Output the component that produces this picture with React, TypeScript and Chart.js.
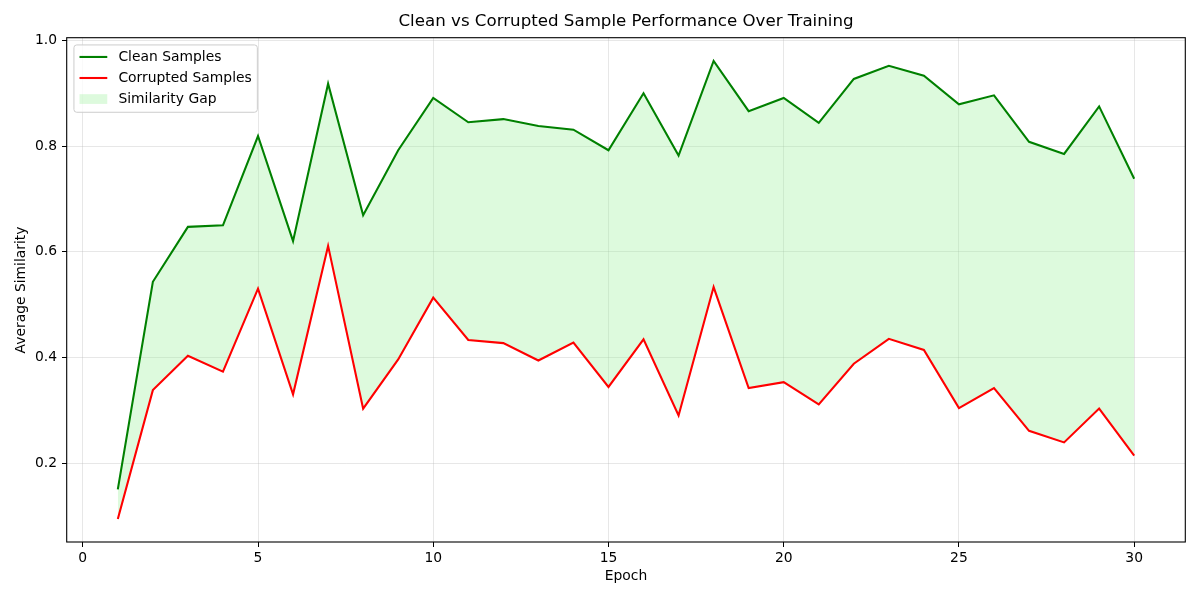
import React, { useEffect, useRef } from "react";
import { Chart, registerables } from "chart.js";

Chart.register(...registerables);

// ---------- data ----------
const TITLE = "Clean vs Corrupted Sample Performance Over Training";
const X_LABEL = "Epoch";
const Y_LABEL = "Average Similarity";

const seriesLabels = ["Clean Samples", "Corrupted Samples", "Similarity Gap"];

const epochs = [
  1, 2, 3, 4, 5, 6, 7, 8, 9, 10, 11, 12, 13, 14, 15, 16, 17, 18, 19, 20, 21,
  22, 23, 24, 25, 26, 27, 28, 29, 30,
];

const clean = [
  0.15, 0.543, 0.647, 0.65, 0.819, 0.62, 0.918, 0.669, 0.792, 0.891, 0.845,
  0.851, 0.838, 0.831, 0.792, 0.9, 0.782, 0.961, 0.866, 0.891, 0.844, 0.927,
  0.952, 0.933, 0.879, 0.896, 0.808, 0.785, 0.875, 0.738,
];

const corrupted = [
  0.094, 0.338, 0.403, 0.373, 0.53, 0.33, 0.611, 0.303, 0.396, 0.513, 0.433,
  0.427, 0.394, 0.428, 0.344, 0.434, 0.29, 0.533, 0.342, 0.353, 0.311, 0.388,
  0.435, 0.414, 0.304, 0.342, 0.261, 0.239, 0.303, 0.214,
];

const xTicks = [0, 5, 10, 15, 20, 25, 30];
const yTicks = [0.2, 0.4, 0.6, 0.8, 1.0];

const X_MIN = -0.45;
const X_MAX = 31.45;
const Y_MIN = 0.0505;
const Y_MAX = 1.0045;

// ---------- styles ----------
const FONT = '"DejaVu Sans", "Liberation Sans", sans-serif';
const FS = 13.89;
const CLEAN_COLOR = "#008000";
const CORRUPT_COLOR = "#ff0000";
const GAP_COLOR = "rgba(144,238,144,0.3)";
const GRID_COLOR = "rgba(176,176,176,0.3)";

const framePlugin = {
  id: "mplFrameLegend",
  afterDraw(chart: any) {
    const { ctx, chartArea: a } = chart;
    ctx.save();
    // spines
    ctx.strokeStyle = "#000";
    ctx.lineWidth = 1.1;
    ctx.strokeRect(a.left - 0.3, a.top - 0.3, a.right - a.left + 0.6, a.bottom - a.top + 0.3);

    // legend
    const em = FS;
    ctx.font = `${FS}px ${FONT}`;
    const ds = chart.data.datasets;
    const labels: string[] = ds.map((d: any) => d.label);
    const maxW = Math.max(...labels.map((l) => ctx.measureText(l).width));
    const x0 = a.left + 0.5 * em;
    const y0 = a.top + 0.5 * em;
    const textH = 14.1;
    const w = 0.8 * em + 2 * em + 0.8 * em + maxW;
    const h = 0.8 * em + labels.length * textH + (labels.length - 1) * 0.5 * em;
    ctx.beginPath();
    if ((ctx as any).roundRect) (ctx as any).roundRect(x0, y0, w, h, 0.2 * em);
    else ctx.rect(x0, y0, w, h);
    ctx.fillStyle = "rgba(255,255,255,0.8)";
    ctx.fill();
    ctx.strokeStyle = "#cccccc";
    ctx.lineWidth = 1;
    ctx.stroke();

    labels.forEach((label, i) => {
      const d = ds[i];
      const cy = y0 + 0.4 * em + textH / 2 + i * (textH + 0.5 * em) - 0.6;
      const hx = x0 + 0.4 * em;
      if (d.fill !== undefined && d.fill !== false) {
        ctx.fillStyle = d.backgroundColor;
        ctx.fillRect(hx, cy - 0.35 * em, 2 * em, 0.7 * em);
      } else {
        ctx.beginPath();
        ctx.moveTo(hx, cy);
        ctx.lineTo(hx + 2 * em, cy);
        ctx.strokeStyle = d.borderColor;
        ctx.lineWidth = 2.08;
        ctx.stroke();
      }
      ctx.fillStyle = "#000";
      ctx.textAlign = "left";
      ctx.textBaseline = "middle";
      ctx.fillText(label, hx + 2.8 * em, cy);
    });
    ctx.restore();
  },
};

export default function App() {
  const ref = useRef<HTMLCanvasElement | null>(null);

  useEffect(() => {
    if (!ref.current) return;
    Chart.defaults.font.family = FONT;
    const pts = (vals: number[]) => vals.map((v, i) => ({ x: epochs[i], y: v }));

    const chart = new Chart(ref.current, {
      type: "line",
      data: {
        datasets: [
          {
            label: seriesLabels[0],
            data: pts(clean),
            borderColor: CLEAN_COLOR,
            backgroundColor: CLEAN_COLOR,
            borderWidth: 2.08,
            pointRadius: 0,
            fill: false,
            tension: 0,
          },
          {
            label: seriesLabels[1],
            data: pts(corrupted),
            borderColor: CORRUPT_COLOR,
            backgroundColor: CORRUPT_COLOR,
            borderWidth: 2.08,
            pointRadius: 0,
            fill: false,
            tension: 0,
          },
          {
            label: seriesLabels[2],
            data: pts(clean),
            borderColor: "rgba(0,0,0,0)",
            backgroundColor: GAP_COLOR,
            borderWidth: 0.01,
            pointRadius: 0,
            fill: 1,
            tension: 0,
          },
        ],
      },
      options: {
        responsive: false,
        animation: false,
        events: [],
        layout: { padding: { left: 0, right: 15, top: 0, bottom: 0 } },
        plugins: {
          legend: { display: false },
          tooltip: { enabled: false },
          filler: { propagate: false },
          title: {
            display: true,
            text: TITLE,
            fullSize: false,
            color: "#000",
            font: { size: 16.67, weight: "normal", family: FONT },
            padding: { top: 12, bottom: 6 },
          },
        },
        scales: {
          x: {
            type: "linear",
            min: X_MIN,
            max: X_MAX,
            afterBuildTicks: (s: any) => {
              s.ticks = xTicks.map((v) => ({ value: v }));
            },
            afterFit: (s: any) => {
              s.height = 58;
            },
            grid: {
              color: GRID_COLOR,
              lineWidth: 1,
              drawTicks: true,
              tickLength: 5,
              tickColor: "#000",
              tickWidth: 1,
            },
            border: { display: false },
            ticks: {
              color: "#000",
              font: { size: FS, family: FONT },
              padding: 3,
              maxRotation: 0,
              autoSkip: false,
              callback: (v: any) => String(v),
            },
            title: {
              display: true,
              text: X_LABEL,
              color: "#000",
              font: { size: FS, family: FONT },
              padding: { top: 0, bottom: 15.7 },
            },
          },
          y: {
            type: "linear",
            min: Y_MIN,
            max: Y_MAX,
            afterBuildTicks: (s: any) => {
              s.ticks = yTicks.map((v) => ({ value: v }));
            },
            afterFit: (s: any) => {
              s.width = 67;
            },
            grid: {
              color: GRID_COLOR,
              lineWidth: 1,
              drawTicks: true,
              tickLength: 5,
              tickColor: "#000",
              tickWidth: 1,
            },
            border: { display: false },
            ticks: {
              color: "#000",
              font: { size: FS, family: FONT },
              padding: 5,
              autoSkip: false,
              callback: (v: any) => Number(v).toFixed(1),
            },
            title: {
              display: true,
              text: Y_LABEL,
              color: "#000",
              font: { size: FS, family: FONT },
              padding: { top: 12.7, bottom: 0 },
            },
          },
        },
      } as any,
      plugins: [framePlugin],
    });

    return () => chart.destroy();
  }, []);

  return (
    <div style={{ position: "absolute", left: 0, top: 0, width: 1200, height: 600, background: "#fff" }}>
      <canvas ref={ref} width={1200} height={600} style={{ display: "block" }} />
    </div>
  );
}
